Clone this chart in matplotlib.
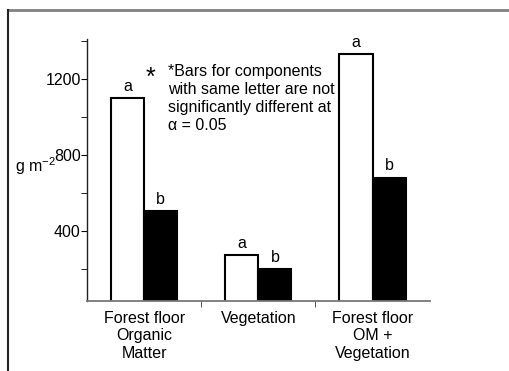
import matplotlib.pyplot as plt
from matplotlib.lines import Line2D
import numpy as np

plt.rcParams['font.family'] = ['Liberation Sans', 'DejaVu Sans']

categories = ['Forest floor\nOrganic\nMatter', 'Vegetation', 'Forest floor\nOM +\nVegetation']
white_vals = [1100, 270, 1330]
black_vals = [505, 200, 680]
white_letters = ['a', 'a', 'a']
black_letters = ['b', 'b', 'b']
note = '*Bars for components\nwith same letter are not\nsignificantly different at\n\u03b1 = 0.05'

fs = 11.5

fig = plt.figure(figsize=(5.10, 3.71), dpi=100)
ax = fig.add_axes([0.1706, 0.1887, 0.672, 0.706])

x = np.arange(len(categories))
w = 0.29
ax.bar(x - w / 2, white_vals, w, color='white', edgecolor='black', linewidth=1.5)
ax.bar(x + w / 2, black_vals, w, color='black', edgecolor='black', linewidth=1.5)

for xi, v, t in zip(x, white_vals, white_letters):
    ax.annotate(t, (xi - w / 2, v), xytext=(0, 3), textcoords='offset points',
                ha='center', va='bottom', fontsize=fs)
for xi, v, t in zip(x, black_vals, black_letters):
    ax.annotate(t, (xi + w / 2, v), xytext=(0, 3), textcoords='offset points',
                ha='center', va='bottom', fontsize=fs)

ax.set_xlim(-0.5, 2.5)
ax.set_ylim(30, 1410)

ax.set_yticks([400, 800, 1200])
ax.set_yticks([200, 600, 1000, 1400], minor=True)
ax.set_xticks(x)
ax.set_xticklabels(categories, fontsize=fs, linespacing=1.22)
ax.set_xticks([0.5, 1.5], minor=True)
ax.tick_params(axis='x', which='major', length=0, pad=7)
ax.tick_params(axis='x', which='minor', length=4, direction='out', color='#333333')
ax.tick_params(axis='y', which='both', length=4, direction='out', pad=0.5, labelsize=fs)

for s in ['top', 'right']:
    ax.spines[s].set_visible(False)
ax.spines['left'].set_color('#222222')
ax.spines['bottom'].set_color('#777777')
ax.spines['left'].set_linewidth(1.0)
ax.spines['bottom'].set_linewidth(1.3)

ax.text(-0.21, 0.515, 'g m$^{\\mathregular{-2}}$', transform=ax.transAxes, ha='left',
        va='center', fontsize=fs)

ax.text(0.06, 1205, '*', ha='center', va='center', fontsize=18)
ax.text(0.21, 1280, note, ha='left', va='top', fontsize=fs, linespacing=1.25)

# outer frame
fig.add_artist(Line2D([8 / 510, 1], [1 - 10 / 371] * 2, color='#808080', lw=2,
                      transform=fig.transFigure))
fig.add_artist(Line2D([8 / 510] * 2, [0, 1 - 10 / 371], color='#222222', lw=1.5,
                      transform=fig.transFigure))

fig.savefig('out.png', dpi=100)
